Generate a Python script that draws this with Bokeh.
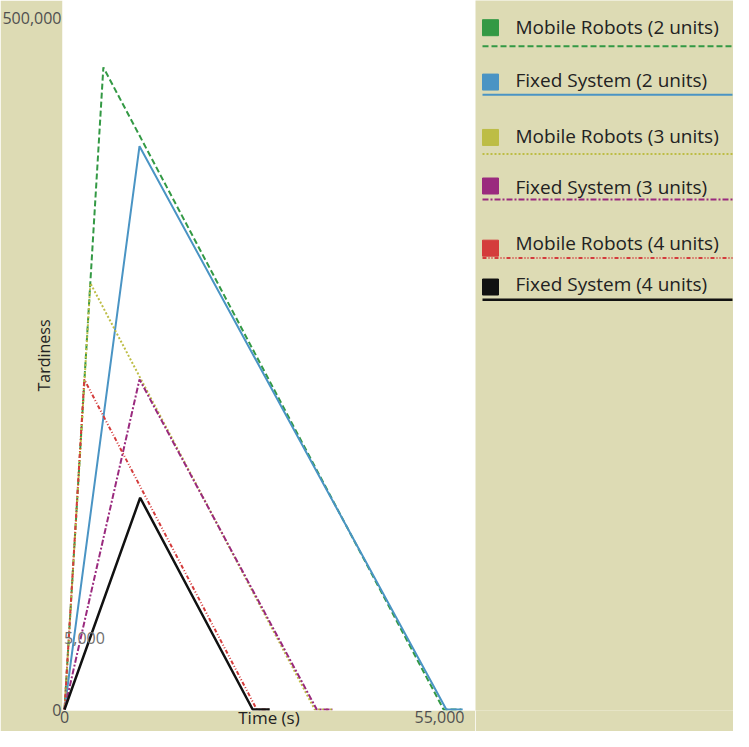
from bokeh.plotting import figure
from bokeh.models import Range1d, FixedTicker, Label
from bokeh.layouts import row
from bokeh.embed import file_html
from bokeh.resources import INLINE
from bokeh.core.properties import value

# ---------------- data ----------------
series_names = [
    "Mobile Robots (2 units)",
    "Fixed System (2 units)",
    "Mobile Robots (3 units)",
    "Fixed System (3 units)",
    "Mobile Robots (4 units)",
    "Fixed System (4 units)",
]
mr2_time = [0, 5700, 55600, 58200]
mr2_tard = [0, 464000, 0, 0]
fs2_time = [0, 11000, 56000, 58400]
fs2_tard = [0, 407000, 0, 0]
mr3_time = [0, 3800, 36700, 39300]
mr3_tard = [0, 308000, 0, 0]
fs3_time = [0, 11000, 37000, 39300]
fs3_tard = [0, 238500, 0, 0]
mr4_time = [0, 2900, 28200, 30000]
mr4_tard = [0, 238500, 0, 0]
fs4_time = [0, 11100, 27600, 30100]
fs4_tard = [0, 153000, 0, 0]

x_ticks = [0, 55000]
x_tick_labels = ["0", "55,000"]
y_ticks = [0, 500000]
y_tick_labels = ["0", "500,000"]

# ---------------- styles ----------------
BEIGE = "#dddbb4"
FONT = "Open Sans"
colors = ["#339944", "#4a94c4", "#bdbd45", "#9a2a7e", "#d43c3c", "#111111"]
dashes = ["6 3", "solid", "2 2", "6 2 2 2", "4 2 1 2 1 2", "solid"]
widths = [2, 2, 2, 2, 2, 2.5]

series = [
    (mr2_time, mr2_tard), (fs2_time, fs2_tard),
    (mr3_time, mr3_tard), (fs3_time, fs3_tard),
    (mr4_time, mr4_tard), (fs4_time, fs4_tard),
]

p = figure(width=475, height=731, output_backend="svg", toolbar_location=None,
           x_range=Range1d(-293, 60280), y_range=Range1d(-721, 512300),
           min_border_left=62, min_border_right=0, min_border_top=0, min_border_bottom=0)
p.background_fill_color = "white"
p.border_fill_color = BEIGE
p.outline_line_color = None
p.grid.visible = False

for (xs, ys), c, d, w in zip(series, colors, dashes, widths):
    p.line(xs, ys, line_color=c, line_dash=d, line_width=w)

p.xaxis.ticker = FixedTicker(ticks=x_ticks)
p.xaxis.major_label_overrides = {t: l for t, l in zip(x_ticks, x_tick_labels)}
p.yaxis.ticker = FixedTicker(ticks=y_ticks)
p.yaxis.major_label_overrides = {t: l for t, l in zip(y_ticks, y_tick_labels)}
for ax in (p.xaxis[0], p.yaxis[0]):
    ax.axis_line_color = None
    ax.major_tick_line_color = None
    ax.minor_tick_line_color = None
    ax.major_tick_out = 0
    ax.major_tick_in = 0
    ax.minor_tick_out = 0
    ax.minor_tick_in = 0
    ax.major_label_text_font = FONT
    ax.major_label_text_font_size = "16px"
    ax.major_label_text_color = "#505050"
    ax.major_label_standoff = 1
    ax.axis_label_text_font = FONT
    ax.axis_label_text_font_style = "normal"
    ax.axis_label_text_color = "#222222"

p.xaxis.major_label_standoff = 0
p.xaxis.axis_label = "Time (s)"
p.xaxis.axis_label_text_font_size = "17px"
p.xaxis.axis_label_standoff = -20
p.yaxis.axis_label = "Tardiness"
p.yaxis.axis_label_text_font_size = "16px"
p.yaxis.axis_label_standoff = -56

p.add_layout(Label(x=2930, y=51500, text="5,000",
                   text_align="center", text_baseline="middle",
                   text_font=FONT, text_font_size="16px", text_color="#707070"))

# ---------------- custom legend panel ----------------
leg = figure(width=258, height=731, output_backend="svg", toolbar_location=None,
             x_range=Range1d(483, 741), y_range=Range1d(739, 8),
             x_axis_location=None, y_axis_location=None,
             min_border=0)
leg.background_fill_color = BEIGE
leg.border_fill_color = BEIGE
leg.outline_line_color = None
leg.grid.visible = False

LEG_SQ_X = 498
LEG_TEXT_X = 523
LEG_LINE_X = (490, 740)
sq_y = [36, 92, 149, 199, 263, 303]
text_y = [35, 90, 147, 200, 258, 300]
line_y = [55, 105, 166, 213, 273, 316]

for name, c, d, w, sy, ty, ly in zip(series_names, colors, dashes, widths, sq_y, text_y, line_y):
    leg.scatter([LEG_SQ_X], [sy], marker="square", size=16, fill_color=c, line_color=c)
    leg.text([LEG_TEXT_X], [ty], text=[name], text_font=value(FONT), text_font_size="19px",
             text_baseline="middle", text_align="left", text_color="#222222")
    leg.line(list(LEG_LINE_X), [ly, ly], line_color=c, line_dash=d, line_width=w)

layout = row(p, leg)

open("out.html", "w").write(file_html(layout, INLINE))
